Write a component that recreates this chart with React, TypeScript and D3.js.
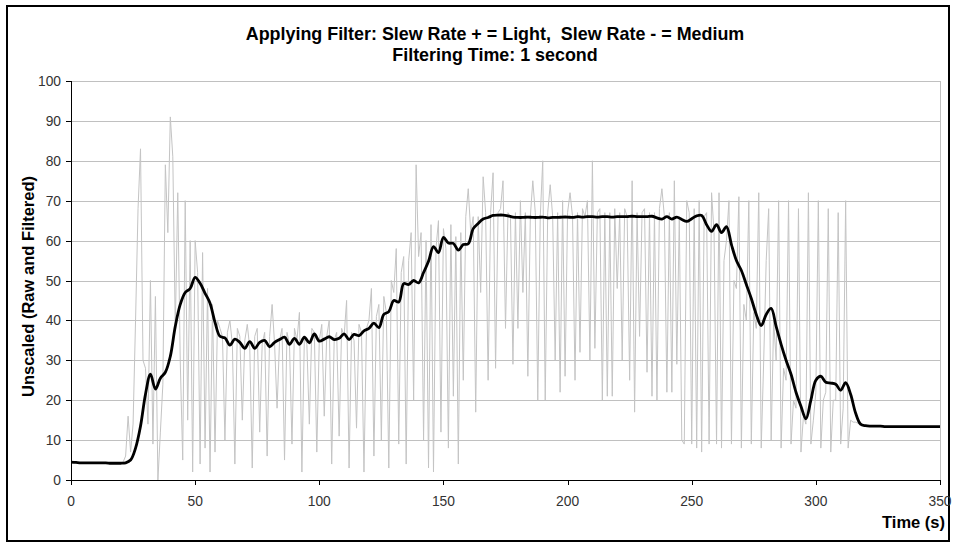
import React from "react";
import * as d3 from "d3";

// raw signal, one sample per second, t = 0 .. 350
const rawValues = [
  4.5, 4.4, 4.3, 4.3, 4.3, 4.3, 4.3, 4.3, 4.3, 4.3,
  4.3, 4.3, 4.3, 4.3, 4.2, 4.2, 4.2, 4.2, 4.2, 4.2,
  4.2, 4.5, 6, 16, 7, 14, 40, 68, 83, 30,
  28, 14, 50, 9, 46, 0, 12, 24, 79, 62,
  91, 81, 38, 72, 30, 5, 70, 15, 60, 2,
  60, 52, 4, 57, 8, 48, 2, 44, 7, 40,
  38, 36, 10, 37, 40, 34, 4, 38, 36, 15,
  35, 39, 33, 3, 36, 38, 12, 34, 37, 6,
  36, 44, 34, 18, 35, 38, 5, 37, 34, 9,
  38, 35, 42, 2, 36, 34, 14, 38, 37, 7,
  35, 39, 16, 36, 40, 4, 35, 37, 11, 38,
  36, 45, 3, 37, 35, 13, 39, 37, 2, 38,
  40, 48, 6, 41, 44, 10, 46, 42, 3, 50,
  47, 58, 9, 52, 56, 4, 55, 62, 20, 79,
  56, 62, 10, 60, 3, 64, 2, 58, 65, 12,
  63, 58, 8, 64, 21, 61, 4, 62, 25, 66,
  73, 62, 66, 17, 66, 47, 76, 67, 25, 67,
  77, 28, 67, 68, 75, 38, 67, 66, 29, 67,
  38, 70, 47, 67, 26, 66, 75, 67, 20, 66,
  80, 20, 67, 74, 66, 30, 67, 22, 70, 26,
  67, 72, 66, 25, 67, 32, 68, 66, 70, 30,
  80, 33, 67, 68, 20, 67, 21, 67, 21, 68,
  48, 67, 30, 68, 66, 25, 75, 17, 67, 36,
  67, 68, 27, 67, 21, 67, 20, 68, 73, 66,
  22, 67, 22, 75, 29, 66, 10, 9, 70, 67,
  9, 68, 8, 70, 7, 66, 67, 9, 72, 62,
  9, 72, 8, 55, 60, 70, 9, 50, 48, 71,
  8, 44, 40, 70, 9, 42, 38, 72, 8, 30,
  55, 68, 10, 40, 30, 70, 8, 28, 25, 70,
  9, 20, 18, 68, 7, 16, 14, 72, 9, 15,
  22, 70, 8, 20, 22, 68, 7, 20, 20, 67,
  9, 18, 70, 8, 15, 14.5, 14.5, 14.2, 14, 13.8,
  13.6, 13.5, 13.5, 13.5, 13.5, 13.5, 13.5, 13.4, 13.4, 13.4,
  13.4, 13.4, 13.4, 13.4, 13.4, 13.4, 13.4, 13.4, 13.4, 13.4,
  13.4, 13.4, 13.4, 13.4, 13.4, 13.4, 13.4, 13.4, 13.4, 13.4,
  13.4,
];
const rawStep = 1;

// filtered signal, one sample every 2 seconds, t = 0 .. 350
const filteredValues = [
  4.5, 4.4, 4.3, 4.3, 4.3, 4.3, 4.3, 4.3, 4.2, 4.2,
  4.2, 4.3, 5.0, 8, 13.5, 21.5, 26.5, 22.8, 25.5, 27,
  31, 38.5, 44, 47, 48, 50.8, 49.3, 46.8, 44.3, 39.5,
  36, 35.6, 33.8, 35.3, 34.5, 33, 34.7, 33, 34.5, 35,
  33.4, 34.5, 35.2, 35.8, 34, 35.5, 34, 35.8, 34.4, 36.6,
  34.8, 35.3, 35.9, 35.2, 35.5, 36.6, 35.2, 36.5, 36.2, 37.4,
  38, 39.3, 38.2, 41.5, 42.2, 45, 44.6, 49.2, 49, 50,
  49.4, 52, 54.8, 58.5, 57, 60.8, 59.4, 59.3, 57.6, 59,
  59.2, 63, 64.3, 65.4, 65.8, 66.3, 66.4, 66.4, 66.2, 65.9,
  65.8, 65.8, 65.9, 65.8, 65.8, 65.9, 65.7, 65.8, 65.8, 65.9,
  65.9, 65.8, 66.0, 65.9, 66.0, 66.0, 65.9, 66.0, 66.0, 65.9,
  66.0, 66.0, 66.0, 66.1, 66.0, 66.0, 66.0, 66.1, 65.7, 65.4,
  66, 65.4, 65.9, 65.3, 64.8, 65.5, 66.2, 66.3, 64, 62.3,
  64, 62, 63.5, 59, 55, 52.5, 49, 45.5, 41.5, 38.7,
  41.5, 43, 38.5, 34, 30, 26.5, 22, 18.5, 15.3, 20,
  25, 26, 24.5, 24.3, 24, 22.5, 24.4, 21.5, 16.8, 14,
  13.6, 13.5, 13.5, 13.5, 13.4, 13.4, 13.4, 13.4, 13.4, 13.4,
  13.4, 13.4, 13.4, 13.4, 13.4, 13.4,
];
const filteredStep = 2;

const xTicks = [0, 50, 100, 150, 200, 250, 300, 350];
const yTicks = [0, 10, 20, 30, 40, 50, 60, 70, 80, 90, 100];

const titleLines = [
  "Applying Filter: Slew Rate + = Light,  Slew Rate - = Medium",
  "Filtering Time: 1 second",
];
const xTitle = "Time (s)";
const yTitle = "Unscaled (Raw and Filtered)";

const W = 954;
const H = 548;
const plot = { left: 71, right: 940, top: 81, bottom: 480 };
const font = "'Liberation Sans', Arial, sans-serif";

export default function App() {
  const x = d3.scaleLinear().domain([0, 350]).range([plot.left, plot.right]);
  const y = d3.scaleLinear().domain([0, 100]).range([plot.bottom, plot.top]);

  const rawLine = d3
    .line<number>()
    .x((d, i) => x(i * rawStep))
    .y((d) => y(d));

  const filtLine = d3
    .line<number>()
    .x((d, i) => x(i * filteredStep))
    .y((d) => y(d))
    .curve(d3.curveCatmullRom);

  return (
    <svg
      width={W}
      height={H}
      style={{ position: "absolute", left: 0, top: 0, background: "#fff" }}
      fontFamily={font}
    >
      <rect x={0} y={0} width={W} height={H} fill="#fff" />
      {/* outer frame */}
      <rect x={7} y={6} width={942} height={535} fill="none" stroke="#000" strokeWidth={2} />

      {/* title */}
      {titleLines.map((t, i) => (
        <text
          key={t}
          x={495}
          y={40 + i * 21}
          textAnchor="middle"
          fontSize={17.9}
          fontWeight="bold"
          fill="#000"
          style={{ whiteSpace: "pre" }}
        >
          {t}
        </text>
      ))}

      {/* gridlines */}
      {yTicks.map((v) => (
        <line
          key={"g" + v}
          x1={plot.left}
          x2={plot.right}
          y1={Math.round(y(v)) + 0.5}
          y2={Math.round(y(v)) + 0.5}
          stroke="#c0c0c0"
          strokeWidth={1}
        />
      ))}
      <line
        x1={plot.right + 0.5}
        x2={plot.right + 0.5}
        y1={plot.top}
        y2={plot.bottom}
        stroke="#c0c0c0"
        strokeWidth={1}
      />

      <clipPath id="clip">
        <rect x={plot.left} y={plot.top} width={plot.right - plot.left} height={plot.bottom - plot.top} />
      </clipPath>

      <g clipPath="url(#clip)">
        <path d={rawLine(rawValues) || ""} fill="none" stroke="#c4c4c4" strokeWidth={1} />
        <path
          d={filtLine(filteredValues) || ""}
          fill="none"
          stroke="#000"
          strokeWidth={2.8}
          strokeLinejoin="round"
        />
      </g>

      {/* axes */}
      <line
        x1={plot.left + 0.5}
        x2={plot.left + 0.5}
        y1={plot.top}
        y2={plot.bottom}
        stroke="#000"
        strokeWidth={1}
      />
      <line
        x1={plot.left}
        x2={plot.right + 1}
        y1={plot.bottom + 0.5}
        y2={plot.bottom + 0.5}
        stroke="#000"
        strokeWidth={1}
      />
      {yTicks.map((v) => (
        <g key={"y" + v}>
          <line
            x1={plot.left - 5}
            x2={plot.left}
            y1={Math.round(y(v)) + 0.5}
            y2={Math.round(y(v)) + 0.5}
            stroke="#000"
          />
          <text x={61} y={y(v) + 5} textAnchor="end" fontSize={13.8} fill="#333">
            {v}
          </text>
        </g>
      ))}
      {xTicks.map((v) => (
        <g key={"x" + v}>
          <line
            x1={Math.round(x(v)) + 0.5}
            x2={Math.round(x(v)) + 0.5}
            y1={plot.bottom}
            y2={plot.bottom + 5}
            stroke="#000"
          />
          <text x={x(v)} y={506} textAnchor="middle" fontSize={13.8} fill="#333">
            {v}
          </text>
        </g>
      ))}

      {/* axis titles */}
      <text x={945} y={528} textAnchor="end" fontSize={16.5} fontWeight="bold" fill="#000">
        {xTitle}
      </text>
      <text
        transform={`translate(34,${(plot.top + plot.bottom) / 2 + 6}) rotate(-90)`}
        textAnchor="middle"
        fontSize={16.5}
        fontWeight="bold"
        fill="#000"
      >
        {yTitle}
      </text>
    </svg>
  );
}
